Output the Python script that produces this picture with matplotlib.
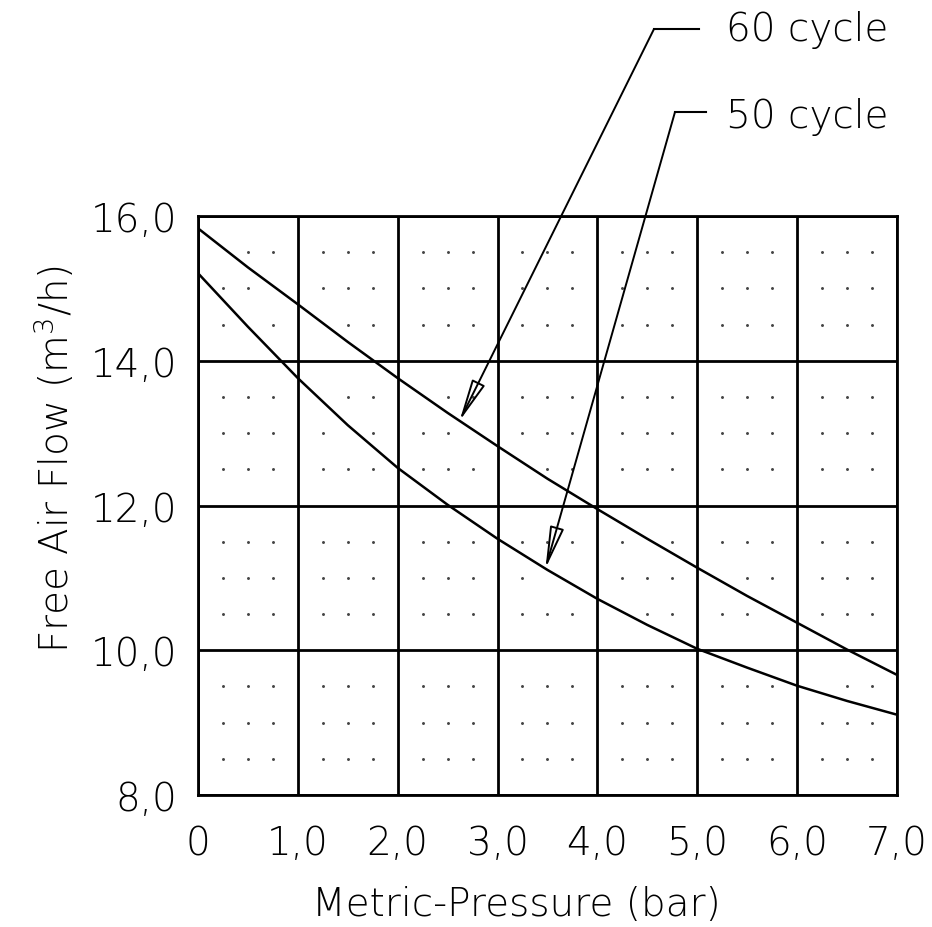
import numpy as np
import matplotlib
matplotlib.use("Agg")
import matplotlib.pyplot as plt

# pressure (bar) and free air flow (m3/h)
pressure = [0, 0.5, 1.0, 1.5, 2.0, 2.5, 3.0, 3.5, 4.0, 4.5, 5.0, 5.5, 6.0, 6.5, 7.0]
flow_60 = [15.83, 15.29, 14.78, 14.26, 13.76, 13.28, 12.82, 12.37, 11.95, 11.54, 11.14, 10.75, 10.38, 10.01, 9.66]
flow_50 = [15.21, 14.47, 13.76, 13.11, 12.52, 12.01, 11.54, 11.11, 10.71, 10.35, 10.02, 9.76, 9.51, 9.30, 9.11]

x_ticks = [0, 1, 2, 3, 4, 5, 6, 7]
x_labels = ['0', '1,0', '2,0', '3,0', '4,0', '5,0', '6,0', '7,0']
y_ticks = [8, 10, 12, 14, 16]
y_labels = ['8,0', '10,0', '12,0', '14,0', '16,0']

series_names = ['60 cycle', '50 cycle']
arrow_points = [(2.62, 13.17), (3.48, 11.13)]

plt.rcParams['font.family'] = ['DejaVu Sans']
plt.rcParams['font.weight'] = 'light'
plt.rcParams['mathtext.default'] = 'regular'

FS = 28
fig = plt.figure(figsize=(9.32, 9.28), dpi=100)
ax = fig.add_axes([0.2124, 0.1422, 0.75, 0.624])

# dotted sub grid, skipping dots that sit on a curve
px = np.arange(0.25, 7.0, 0.25)
py = np.arange(8.5, 16.0, 0.5)
px = px[np.abs(px - np.round(px)) > 0.01]
py = py[np.abs(py / 2 - np.round(py / 2)) > 0.01]
gx, gy = np.meshgrid(px, py)
gx, gy = gx.ravel(), gy.ravel()
keep = (np.abs(gy - np.interp(gx, pressure, flow_60)) > 0.12) & \
       (np.abs(gy - np.interp(gx, pressure, flow_50)) > 0.12)
ax.scatter(gx[keep], gy[keep], s=4.5, color='#444444', linewidths=0, zorder=1)

ax.plot(pressure, flow_60, color='black', lw=1.8, zorder=3)
ax.plot(pressure, flow_50, color='black', lw=1.8, zorder=3)

ax.set_xlim(0, 7)
ax.set_ylim(8, 16)
ax.set_xticks(x_ticks)
ax.set_xticklabels(x_labels)
ax.set_yticks(y_ticks)
ax.set_yticklabels(y_labels)
ax.grid(True, color='black', lw=2.0, zorder=2)
ax.set_axisbelow(False)
for s in ax.spines.values():
    s.set_linewidth(2.0)
ax.tick_params(length=0, labelsize=FS)
ax.tick_params(axis='x', pad=21)
ax.tick_params(axis='y', pad=15)

# leaders from the labels down to the curves
label_pos = [(726, 30), (726, 117)]
leader_start = [(654, 30), (675, 113)]
leader_end = [(699, 30), (706, 113)]
W, H = 932, 928
for name, pt, lp, ls, le in zip(series_names, arrow_points, label_pos, leader_start, leader_end):
    fig.text(lp[0] / W, 1 - lp[1] / H, name, fontsize=FS, ha='left', va='center')
    fig.add_artist(plt.Line2D([ls[0] / W, le[0] / W], [1 - ls[1] / H, 1 - le[1] / H],
                              color='black', lw=1.5, transform=fig.transFigure))
    ax.annotate('', xy=pt, xycoords='data',
                xytext=(ls[0] / W, 1 - ls[1] / H), textcoords='figure fraction',
                arrowprops=dict(arrowstyle='-|>,head_length=1.3,head_width=0.22',
                                mutation_scale=20, fc='none', ec='black', lw=1.4,
                                shrinkA=0, shrinkB=0),
                annotation_clip=False)

fig.text(55 / W, 1 - 459 / H, 'Free Air Flow (m$^3$/h)', rotation=90,
         fontsize=FS, ha='center', va='center')
fig.text(516 / W, 1 - 905 / H, 'Metric-Pressure (bar)', fontsize=FS,
         ha='center', va='center')

fig.savefig('out.png', dpi=100)
